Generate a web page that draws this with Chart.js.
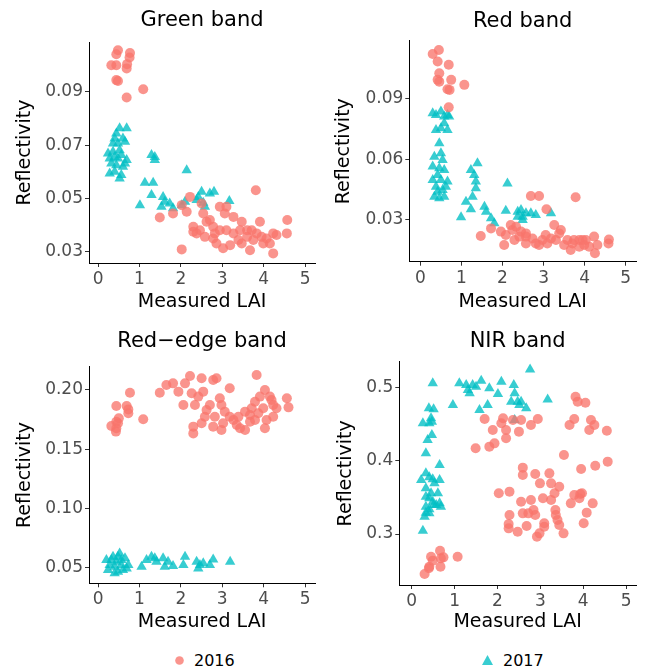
<!DOCTYPE html>
<html>
<head>
<meta charset="utf-8">
<script src="https://cdn.jsdelivr.net/npm/chart.js@4.4.1/dist/chart.umd.min.js"></script>
<style>
  html, body { margin:0; padding:0; background:#fff; }
  body { width:652px; height:672px; position:relative; overflow:hidden; font-family:'DejaVu Sans', sans-serif; }
  .panel { position:absolute; width:326px; height:321px; }
  .legend { position:absolute; top:649px; height:22px; font-size:16px; color:#000; display:flex; align-items:center; }
  .legend svg { margin-right:9px; }
</style>
</head>
<body>
<div class="panel" style="left:0;top:0"><canvas id="c1" width="326" height="321"></canvas></div>
<div class="panel" style="left:326px;top:0"><canvas id="c2" width="326" height="321"></canvas></div>
<div class="panel" style="left:0;top:321px"><canvas id="c3" width="326" height="321"></canvas></div>
<div class="panel" style="left:326px;top:321px"><canvas id="c4" width="326" height="321"></canvas></div>
<div class="legend" style="left:174px"><svg width="11" height="11"><circle cx="5.5" cy="5.5" r="4.3" fill="rgba(248,118,109,0.78)"/></svg><span>2016</span></div>
<div class="legend" style="left:481px"><svg width="13" height="12"><polygon points="6.5,1 12,11 1,11" fill="rgba(0,191,196,0.78)"/></svg><span>2017</span></div>
<script>
// ---------- Data ----------
const seriesNames = ['2016', '2017'];
const panelTitles = ['Green band', 'Red band', 'Red\u2212edge band', 'NIR band'];
const xTicks = [0, 1, 2, 3, 4, 5];
const greenTicks = [0.03, 0.05, 0.07, 0.09];
const redTicks = [0.03, 0.06, 0.09];
const redEdgeTicks = [0.05, 0.10, 0.15, 0.20];
const nirTicks = [0.3, 0.4, 0.5];

const green2016 = [
 [0.48,0.1056],[0.44,0.1041],[0.77,0.1046],[0.76,0.1029],[0.32,0.1000],[0.44,0.1000],[0.70,0.1004],[0.69,0.0988],
 [0.44,0.0944],[0.48,0.0941],[0.69,0.0879],[1.09,0.0910],[3.81,0.0531],[2.22,0.0506],[1.49,0.0429],[1.81,0.0444],
 [2.02,0.0475],[2.14,0.0450],[2.02,0.0309],[2.30,0.0394],[2.30,0.0375],[2.46,0.0381],[2.54,0.0444],[2.50,0.0481],
 [2.62,0.0413],[2.58,0.0356],[2.78,0.0394],[2.82,0.0369],[2.94,0.0381],[2.94,0.0469],[3.06,0.0444],[2.86,0.0331],
 [3.02,0.0313],[3.10,0.0381],[3.27,0.0431],[3.27,0.0369],[3.39,0.0344],[3.47,0.0413],[3.43,0.0381],[3.60,0.0356],
 [3.67,0.0306],[3.71,0.0381],[3.83,0.0369],[3.91,0.0413],[3.95,0.0356],[3.99,0.0331],[4.07,0.0350],[4.15,0.0331],
 [4.23,0.0294],[4.23,0.0369],[4.31,0.0363],[4.57,0.0419],[4.56,0.0369],[3.75,0.0344],[2.70,0.0419],[3.19,0.0325],
 [2.78,0.0350],[2.38,0.0369],[3.47,0.0331],[3.60,0.0381],[3.10,0.0469]
];
const green2017 = [
 [0.52,0.0763],[0.69,0.0763],[0.44,0.0744],[0.40,0.0725],[0.60,0.0725],[0.36,0.0706],[0.48,0.0706],[0.65,0.0713],
 [0.24,0.0669],[0.36,0.0675],[0.52,0.0681],[0.28,0.0650],[0.40,0.0656],[0.56,0.0663],[0.32,0.0631],[0.44,0.0625],
 [0.65,0.0631],[0.28,0.0594],[0.40,0.0600],[0.56,0.0588],[0.52,0.0575],[0.60,0.0619],[0.48,0.0650],[0.69,0.0644],
 [1.29,0.0663],[1.37,0.0656],[1.37,0.0644],[1.13,0.0559],[1.33,0.0559],[1.29,0.0513],[1.01,0.0475],[1.57,0.0506],
 [1.61,0.0488],[1.53,0.0469],[1.81,0.0463],[1.73,0.0481],[2.14,0.0606],[2.10,0.0488],[2.02,0.0475],[2.42,0.0506],
 [2.50,0.0525],[2.38,0.0494],[2.54,0.0484],[2.70,0.0519],[2.80,0.0525],[3.17,0.0491],[2.58,0.0469]
];
const red2016 = [
 [0.30,0.1124],[0.45,0.1144],[0.42,0.1086],[0.69,0.1070],[0.46,0.1028],[0.42,0.0995],[0.46,0.0986],[0.75,0.0995],
 [0.71,0.0945],[0.66,0.0948],[1.07,0.0970],[0.69,0.0858],[2.69,0.0416],[2.89,0.0416],[3.78,0.0410],[3.07,0.0350],
 [3.26,0.0272],[2.20,0.0272],[1.47,0.0217],[1.72,0.0255],[1.96,0.0239],[2.08,0.0222],[2.24,0.0247],[2.33,0.0263],
 [2.45,0.0239],[2.57,0.0214],[2.57,0.0180],[2.73,0.0205],[2.81,0.0180],[2.97,0.0197],[3.05,0.0222],[3.09,0.0180],
 [3.30,0.0197],[3.38,0.0230],[3.42,0.0247],[3.50,0.0172],[3.66,0.0147],[3.74,0.0197],[3.87,0.0164],[3.95,0.0197],
 [3.99,0.0172],[4.11,0.0164],[4.23,0.0214],[4.25,0.0131],[4.31,0.0172],[4.59,0.0200],[4.58,0.0180],[2.04,0.0172],
 [2.29,0.0197],[2.41,0.0214],[2.89,0.0172],[3.18,0.0205],[3.58,0.0197],[3.87,0.0197],[2.57,0.0230],[3.70,0.0180],
 [4.03,0.0197]
];
const red2017 = [
 [0.30,0.0829],[0.50,0.0837],[0.38,0.0820],[0.58,0.0812],[0.66,0.0820],[0.38,0.0745],[0.50,0.0754],[0.66,0.0745],
 [0.58,0.0779],[0.70,0.0812],[0.46,0.0679],[0.50,0.0629],[0.34,0.0612],[0.54,0.0596],[0.30,0.0563],[0.46,0.0554],
 [0.58,0.0546],[0.42,0.0521],[0.30,0.0496],[0.50,0.0496],[0.66,0.0488],[0.38,0.0463],[0.54,0.0446],[0.34,0.0413],
 [0.46,0.0405],[0.58,0.0413],[0.62,0.0463],[0.42,0.0438],[1.39,0.0579],[1.23,0.0546],[1.31,0.0521],[1.35,0.0488],
 [1.35,0.0455],[1.27,0.0413],[1.11,0.0388],[1.23,0.0350],[0.99,0.0310],[1.56,0.0363],[1.60,0.0338],[1.72,0.0305],
 [1.80,0.0280],[2.08,0.0343],[2.12,0.0479],[2.37,0.0338],[2.45,0.0347],[2.49,0.0313],[2.57,0.0330],[2.69,0.0330],
 [2.81,0.0322],[3.18,0.0330],[2.37,0.0313],[2.49,0.0297]
];
const redEdge2016 = [
 [0.32,0.1695],[0.44,0.1732],[0.44,0.1676],[0.43,0.1648],[0.44,0.1865],[0.50,0.1760],[0.48,0.1718],[0.69,0.1865],
 [0.73,0.1836],[0.73,0.1803],[0.77,0.1977],[1.09,0.1752],[1.49,0.1977],[1.65,0.2042],[1.81,0.2056],[1.94,0.1986],
 [2.06,0.1873],[2.10,0.2056],[2.22,0.2118],[2.26,0.1972],[2.30,0.1633],[2.30,0.1690],[2.34,0.1873],[2.42,0.1944],
 [2.50,0.2099],[2.54,0.1986],[2.50,0.1718],[2.58,0.1774],[2.62,0.1831],[2.70,0.1873],[2.78,0.2085],[2.86,0.2099],
 [2.78,0.1690],[2.82,0.1774],[2.94,0.1930],[2.98,0.1873],[2.98,0.1662],[3.02,0.1718],[3.06,0.1817],[3.18,0.2014],
 [3.18,0.1774],[3.27,0.1746],[3.35,0.1704],[3.39,0.1774],[3.43,0.1676],[3.55,0.1662],[3.55,0.1817],[3.67,0.1732],
 [3.71,0.1845],[3.79,0.1901],[3.83,0.2127],[3.87,0.1803],[3.91,0.1944],[3.99,0.1845],[4.03,0.2000],[4.07,0.1746],
 [4.03,0.1676],[4.15,0.1944],[4.23,0.1873],[4.19,0.1915],[4.23,0.1774],[4.56,0.1930],[4.60,0.1853],[4.31,0.1845],
 [3.67,0.1789],[3.79,0.1746]
];
const redEdge2017 = [
 [0.20,0.0562],[0.28,0.0520],[0.36,0.0590],[0.40,0.0505],[0.44,0.0548],[0.52,0.0618],[0.48,0.0463],[0.56,0.0520],
 [0.65,0.0576],[0.69,0.0491],[0.24,0.0477],[0.40,0.0449],[0.56,0.0562],[0.60,0.0477],[0.32,0.0562],[0.48,0.0590],
 [0.73,0.0520],[1.05,0.0505],[1.17,0.0562],[1.29,0.0590],[1.37,0.0576],[1.41,0.0548],[1.57,0.0576],[1.61,0.0505],
 [1.69,0.0548],[1.81,0.0511],[2.10,0.0590],[2.06,0.0520],[2.38,0.0548],[2.46,0.0520],[2.54,0.0534],[2.70,0.0520],
 [2.78,0.0567],[3.19,0.0548],[2.42,0.0491]
];
const nir2016 = [
 [0.30,0.2453],[0.41,0.2553],[0.45,0.2690],[0.49,0.2636],[0.66,0.2772],[0.68,0.2667],[0.74,0.2681],[0.67,0.2553],
 [1.07,0.2690],[0.40,0.2531],[1.70,0.4572],[1.49,0.4171],[1.81,0.4194],[1.93,0.4239],[1.89,0.4421],[2.09,0.4513],
 [2.13,0.4581],[2.20,0.4421],[2.20,0.4308],[2.36,0.4558],[2.50,0.4399],[2.55,0.4558],[2.78,0.4490],[2.94,0.4572],
 [3.82,0.4877],[3.87,0.4809],[4.05,0.4795],[3.68,0.4490],[3.79,0.4572],[4.18,0.4558],[4.14,0.4421],[4.26,0.4490],
 [4.55,0.4412],[3.55,0.4080],[3.95,0.3888],[4.28,0.3934],[4.57,0.3989],[2.03,0.3556],[2.28,0.3579],[2.59,0.3907],
 [2.59,0.3806],[2.88,0.3820],[2.55,0.3442],[2.78,0.3465],[2.99,0.3692],[3.21,0.3829],[3.25,0.3692],[3.33,0.3556],
 [3.44,0.3647],[3.25,0.3465],[3.06,0.3488],[2.28,0.3260],[2.59,0.3282],[2.72,0.3282],[2.88,0.3260],[2.26,0.3137],
 [2.26,0.3077],[2.47,0.3032],[2.68,0.3109],[2.92,0.2964],[2.98,0.3009],[3.09,0.3100],[3.09,0.3146],[3.35,0.3328],
 [3.36,0.3260],[3.40,0.3191],[3.44,0.3123],[3.54,0.3009],[3.71,0.3419],[3.79,0.3533],[3.93,0.3547],[3.91,0.3488],
 [3.97,0.3556],[4.01,0.3146],[4.08,0.3292],[4.22,0.3419],[2.84,0.3328]
];
const nir2017 = [
 [0.49,0.5059],[0.26,0.4513],[0.41,0.4513],[0.45,0.4581],[0.40,0.4718],[0.51,0.4704],[0.47,0.4535],[0.47,0.4353],
 [0.37,0.4285],[0.33,0.4103],[0.22,0.3738],[0.33,0.3829],[0.41,0.3775],[0.49,0.3747],[0.53,0.3692],[0.65,0.3738],
 [0.65,0.3943],[0.33,0.3624],[0.33,0.3510],[0.41,0.3487],[0.45,0.3556],[0.49,0.3442],[0.61,0.3556],[0.65,0.3419],
 [0.33,0.3374],[0.41,0.3337],[0.57,0.3397],[0.68,0.3374],[0.30,0.3237],[0.33,0.3292],[0.26,0.3046],[0.41,0.3283],
 [0.51,0.3397],[0.96,0.4763],[1.11,0.5059],[1.27,0.5036],[1.31,0.4968],[1.42,0.5036],[1.35,0.4923],[1.50,0.5014],
 [1.58,0.4695],[1.62,0.5096],[1.77,0.4763],[1.81,0.4991],[2.09,0.5082],[2.01,0.4913],[2.38,0.5036],[2.40,0.4923],
 [2.32,0.4809],[2.40,0.4558],[2.47,0.4809],[2.55,0.4809],[2.67,0.4718],[2.76,0.5250],[3.17,0.4840],[2.51,0.4763]
];

// ---------- Styling ----------
const FONT = "'DejaVu Sans', sans-serif";
const COL16 = 'rgba(248,118,109,0.78)';
const COL17 = 'rgba(0,191,196,0.78)';
const TICKCOL = '#4D4D4D';

function toPts(arr) { return arr.map(p => ({x: p[0], y: p[1]})); }

function makePanel(id, title, d16, d17, yTickVals, dec, cfg) {
  const W = 326, H = 321;
  const a = cfg.area;
  new Chart(document.getElementById(id), {
    type: 'scatter',
    data: {
      datasets: [
        { label: seriesNames[0], data: toPts(d16), pointStyle: 'circle', pointRadius: 5, pointHoverRadius: 5,
          backgroundColor: COL16, borderWidth: 0 },
        { label: seriesNames[1], data: toPts(d17), pointStyle: 'triangle', pointRadius: 6, pointHoverRadius: 6,
          backgroundColor: COL17, borderWidth: 0 }
      ]
    },
    options: {
      responsive: false,
      animation: false,
      events: [],
      layout: { padding: { left: 0, top: 0, right: W - a.r, bottom: 0 } },
      plugins: {
        legend: { display: false },
        tooltip: { enabled: false },
        title: {
          display: true, text: title, fullSize: false, color: '#000',
          font: { family: FONT, size: 21, weight: 'normal', lineHeight: 1.2 },
          padding: { top: cfg.tTop, bottom: a.t - cfg.tTop - 25.2 }
        }
      },
      scales: {
        x: {
          type: 'linear', min: cfg.xmin, max: cfg.xmax,
          afterBuildTicks: s => { s.ticks = xTicks.map(v => ({value: v})); },
          afterFit: s => { s.height = H - a.b; s.paddingLeft = 0; s.paddingRight = 0; },
          ticks: { color: TICKCOL, font: { family: FONT, size: 17 }, padding: 2.5, maxRotation: 0,
                   callback: v => String(v) },
          grid: { display: true, drawOnChartArea: false, drawTicks: true, tickLength: 4, color: '#333333' },
          border: { display: true, color: '#000', width: 1 },
          title: { display: true, text: 'Measured LAI', color: '#000',
                   font: { family: FONT, size: 19, lineHeight: 1.2 }, padding: { top: 0, bottom: cfg.xtPad } }
        },
        y: {
          type: 'linear', min: cfg.ymin, max: cfg.ymax,
          afterBuildTicks: s => { s.ticks = yTickVals.map(v => ({value: v})); },
          afterFit: s => { s.width = a.l; s.paddingTop = 0; s.paddingBottom = 0; },
          ticks: { color: TICKCOL, font: { family: FONT, size: 17 }, padding: 2,
                   callback: v => Number(v).toFixed(dec) },
          grid: { display: true, drawOnChartArea: false, drawTicks: true, tickLength: 4, color: '#333333' },
          border: { display: true, color: '#000', width: 1 },
          title: { display: true, text: 'Reflectivity', color: '#000',
                   font: { family: FONT, size: 19, lineHeight: 1.2 }, padding: { top: cfg.ytPad, bottom: 0 } }
        }
      }
    }
  });
}

makePanel('c1', panelTitles[0], green2016, green2017, greenTicks, 2,
  { area: {l:89, t:42, r:315, b:263}, tTop: 8.1, ytPad: 13.6, xtPad: 7.9,
    xmin: -0.22, xmax: 5.24, ymin: 0.0258, ymax: 0.1087 });
makePanel('c2', panelTitles[1], red2016, red2017, redTicks, 2,
  { area: {l:83.3, t:40.7, r:310, b:261.7}, tTop: 9.1, ytPad: 6.9, xtPad: 7.9,
    xmin: -0.27, xmax: 5.25, ymin: 0.0089, ymax: 0.119 });
makePanel('c3', panelTitles[2], redEdge2016, redEdge2017, redEdgeTicks, 2,
  { area: {l:89, t:45.7, r:315, b:262.3}, tTop: 8.1, ytPad: 13.6, xtPad: 8.9,
    xmin: -0.22, xmax: 5.24, ymin: 0.0365, ymax: 0.2197 });
makePanel('c4', panelTitles[3], nir2016, nir2017, nirTicks, 1,
  { area: {l:73.3, t:40.7, r:310, b:264}, tTop: 8.1, ytPad: 8.6, xtPad: 8.9,
    xmin: -0.29, xmax: 5.23, ymin: 0.2303, ymax: 0.5355 });
</script>
</body>
</html>
